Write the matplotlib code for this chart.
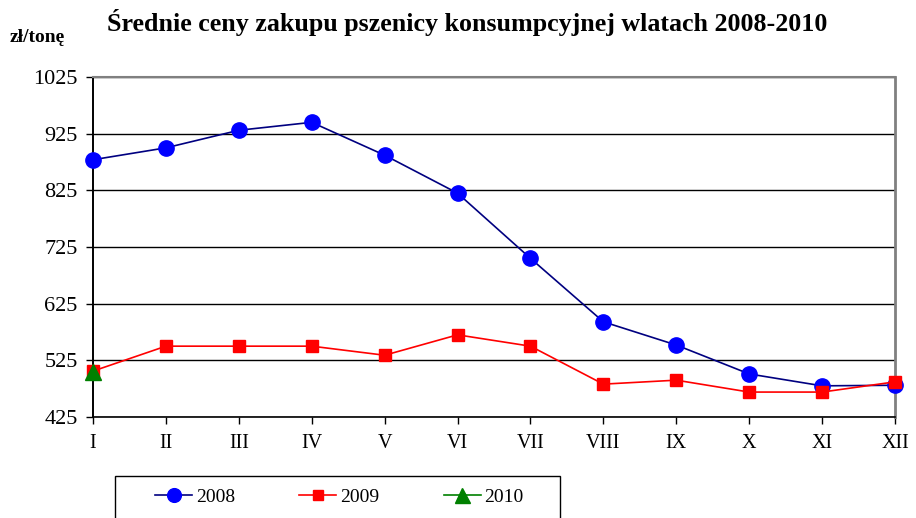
#!/usr/bin/env python3
"""Średnie ceny zakupu pszenicy konsumpcyjnej 2008-2010 -> out.png."""

import matplotlib
matplotlib.use("Agg")
import matplotlib.pyplot as plt
from matplotlib.patches import Rectangle

# dane (zł/tonę)
months = ["I", "II", "III", "IV", "V", "VI", "VII", "VIII", "IX", "X", "XI", "XII"]
prices_2008 = [879, 900, 931, 945, 887, 820, 705, 593, 552, 501, 480, 481]
prices_2009 = [506, 550, 550, 550, 534, 570, 550, 483, 490, 469, 469, 487]
prices_2010 = [505]

yticks = [425, 525, 625, 725, 825, 925, 1025]

plt.rcParams["font.family"] = ["Liberation Serif", "DejaVu Serif"]

fig = plt.figure(figsize=(9.16, 5.18), dpi=100)
ax = fig.add_axes([93 / 916, 1 - 417 / 518, 802 / 916, 340 / 518])

x = list(range(len(months)))
ax.plot(x, prices_2008, color="#000080", lw=1.2, marker="o", ms=11,
        mfc="#0000ff", mec="#0000ff", zorder=3, clip_on=False)
ax.plot(x, prices_2009, color="#ff0000", lw=1.2, marker="s", ms=8.5,
        mfc="#ff0000", mec="#ff0000", zorder=4, clip_on=False)
ax.plot(x[:len(prices_2010)], prices_2010, color="#008000", lw=1.2, marker="^",
        ms=12, mfc="#008000", mec="#008000", zorder=5, clip_on=False)

ax.set_xlim(0, len(months) - 1)
ax.set_ylim(425, 1025)
ax.set_yticks(yticks)
ax.set_xticks(x)
ax.set_xticklabels(months)
ax.tick_params(axis="both", length=5, width=1, direction="out")
ax.tick_params(axis="x", labelsize=14.5, pad=7)
ax.tick_params(axis="y", labelsize=16, pad=6)
ax.grid(axis="y", color="black", lw=1)
ax.set_axisbelow(True)

ax.spines["left"].set_color("black")
ax.spines["left"].set_linewidth(1.4)
ax.spines["bottom"].set_color("black")
ax.spines["bottom"].set_linewidth(1.2)
ax.spines["right"].set_color("#808080")
ax.spines["right"].set_linewidth(2)
ax.spines["top"].set_color("#808080")
ax.spines["top"].set_linewidth(1.5)

fig.text(107 / 916, 1 - 22 / 518, "Średnie ceny zakupu pszenicy konsumpcyjnej wlatach 2008-2010",
         fontsize=18.7, fontweight="bold", ha="left", va="center")
fig.text(10 / 916, 1 - 38 / 518, "zł/tonę", fontsize=14, fontweight="bold",
         ha="left", va="center")

# ramka legendy (dół ucięty przez brzeg rysunku)
fig.patches.append(Rectangle((115 / 916, -0.05), 445 / 916, 0.05 + 42 / 518,
                             transform=fig.transFigure, fill=False,
                             edgecolor="black", lw=1))
handles = ax.get_lines()
leg = fig.legend(handles, ["2008", "2009", "2010"], loc="center",
                 bbox_to_anchor=(339.5 / 916, 1 - 497 / 518), ncol=3,
                 frameon=False, fontsize=14, handlelength=1.9,
                 handletextpad=0.2, columnspacing=3.3, markerscale=0.9)

fig.savefig("out.png")
